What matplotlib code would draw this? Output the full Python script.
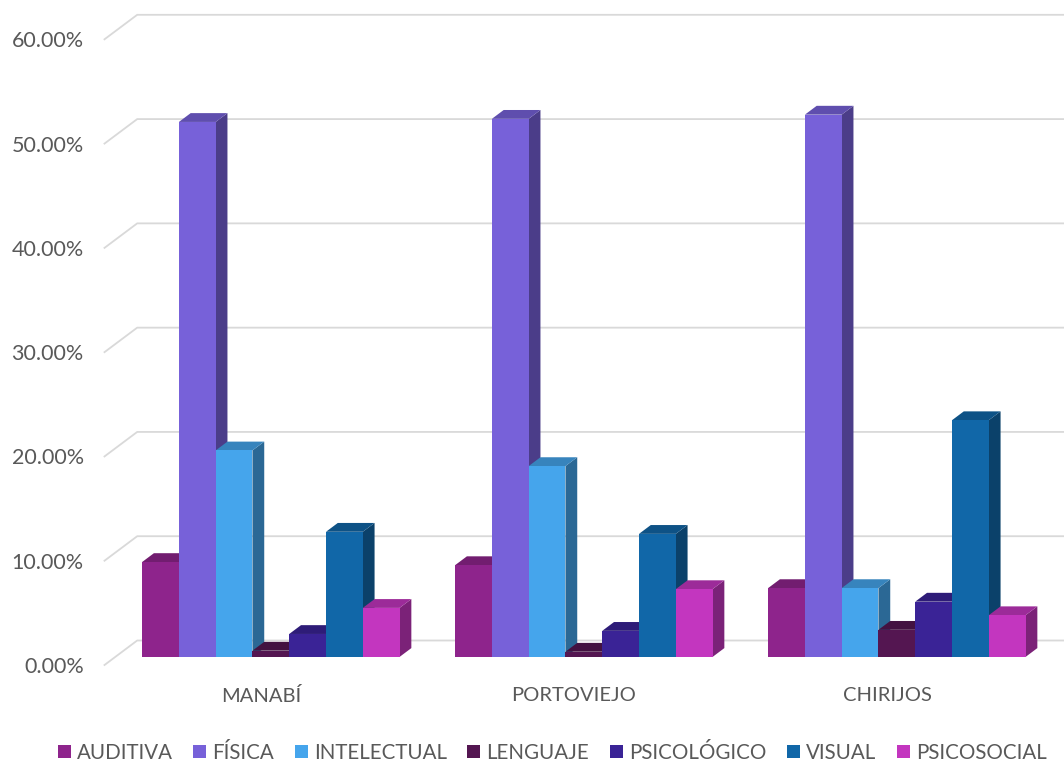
import matplotlib
matplotlib.use('Agg')
import matplotlib.pyplot as plt
from matplotlib.patches import Polygon, Patch
import numpy as np

plt.rcParams['font.family'] = ['Lato', 'DejaVu Sans']

cantones = ['MANABÍ', 'PORTOVIEJO', 'CHIRIJOS']
series = ['AUDITIVA', 'FÍSICA', 'INTELECTUAL', 'LENGUAJE', 'PSICOLÓGICO', 'VISUAL', 'PSICOSOCIAL']
auditiva = [0.091, 0.088, 0.066]
fisica = [0.513, 0.516, 0.520]
intelectual = [0.198, 0.183, 0.066]
lenguaje = [0.006, 0.005, 0.026]
psicologico = [0.022, 0.025, 0.053]
visual = [0.120, 0.118, 0.227]
psicosocial = [0.047, 0.065, 0.040]
yticks = [0, 0.1, 0.2, 0.3, 0.4, 0.5, 0.6]
ytick_labels = ['0.00%', '10.00%', '20.00%', '30.00%', '40.00%', '50.00%', '60.00%']

valores = [auditiva, fisica, intelectual, lenguaje, psicologico, visual, psicosocial]
colores = ['#8E248C', '#7761D9', '#45A5EC', '#541651', '#3A2396', '#1167A8', '#C336BF']
gris = '#595959'


def oscurecer(c, f):
    rgb = np.array(matplotlib.colors.to_rgb(c))
    return tuple(rgb * f)


W, H = 1064, 765
fig = plt.figure(figsize=(W / 100, H / 100), dpi=100)
ax = fig.add_axes([104.5 / W, 100 / H, 939 / W, 625.7 / H])
ax.set_xlim(-0.5, 2.5)
ax.set_ylim(0, 0.6)
for s in ax.spines.values():
    s.set_visible(False)

# profundidad del "3D" en unidades de datos
DX = 32.7 / 313.0
DY = 24.5 * 0.6 / 625.7
f0, f1 = 0.33, 0.69
bw = 0.1175

# lineas de cuadricula (pared + suelo)
for v in yticks:
    ax.plot([-0.5, -0.5 + DX, 2.5 + DX], [v, v + DY, v + DY], color='#D9D9D9',
            lw=1.3, clip_on=False, zorder=0)

x = np.arange(len(cantones))
z = 1
for g in range(len(cantones)):
    for i in range(len(series)):
        h = valores[i][g]
        xl = x[g] + (i - 3.5) * bw + f0 * DX - 0.003
        xr = xl + bw
        y0 = f0 * DY
        ddx = (f1 - f0) * DX
        ddy = (f1 - f0) * DY
        lado = Polygon([(xr, y0), (xr + ddx, y0 + ddy), (xr + ddx, y0 + ddy + h), (xr, y0 + h)],
                       closed=True, facecolor=oscurecer(colores[i], 0.63), edgecolor='none', zorder=z)
        tapa = Polygon([(xl, y0 + h), (xr, y0 + h), (xr + ddx, y0 + h + ddy), (xl + ddx, y0 + h + ddy)],
                       closed=True, facecolor=oscurecer(colores[i], 0.8), edgecolor='none', zorder=z)
        ax.add_patch(lado)
        ax.add_patch(tapa)
        ax.bar(xl, h, bw, bottom=y0, align='edge', color=colores[i], zorder=z + 0.5)
        z += 1

ax.set_yticks(yticks)
ax.set_yticklabels(ytick_labels)
ax.set_xticks(x)
ax.set_xticklabels(cantones)
ax.tick_params(axis='y', length=0, pad=15, labelsize=15.5, labelcolor=gris)
ax.tick_params(axis='x', length=0, pad=16, labelsize=14.5, labelcolor=gris)

handles = [Patch(facecolor=c, edgecolor='none') for c in colores]
fig.legend(handles, series, loc='center', bbox_to_anchor=(0.519, 1 - 753 / H), ncol=7,
           frameon=False, fontsize=14.8, labelcolor=gris, handlelength=0.63, handleheight=0.63,
           handletextpad=0.3, columnspacing=1.0)

fig.savefig('out.png', dpi=100)
